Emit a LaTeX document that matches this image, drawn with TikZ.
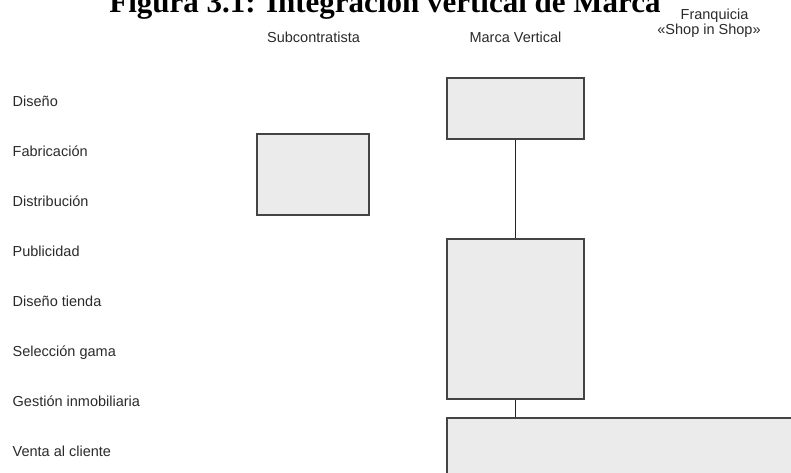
\documentclass[tikz,border=0pt]{standalone}
\usepackage{fontspec}
\setmainfont{Liberation Sans}
\newfontfamily\titlefont{Liberation Serif}
\definecolor{boxfill}{HTML}{EBEBEB}
\definecolor{boxline}{HTML}{444444}
\definecolor{txt}{HTML}{2A2A2A}
\definecolor{connc}{HTML}{222222}
\begin{document}
\begin{tikzpicture}[x=1pt,y=-1pt,
  lbl/.style={anchor=base west, inner sep=0pt, font=\fontsize{14.5}{16}\selectfont, text=txt},
  hdr/.style={anchor=base, inner sep=0pt, font=\fontsize{14.5}{16}\selectfont, text=txt},
  boxnode/.style={draw=boxline, fill=boxfill, line width=1.4pt, inner sep=0pt},
  conn/.style={draw=connc, line width=1.9pt}]
\useasboundingbox (0,0) rectangle (791,472);
\clip (0,0) rectangle (791,472);
% title
\node[anchor=base, inner sep=0pt, font=\titlefont\bfseries\fontsize{31}{36}\selectfont] (title) at (385,12) {Figura 3.1: Integración vertical de Marca};
% headers
\node[hdr] (hsub) at (313.5,42) {Subcontratista};
\node[hdr] (hmv) at (515.5,42) {Marca Vertical};
\node[hdr] (hfr1) at (714.5,19.5) {Franquicia};
\node[hdr] (hfr2) at (709,34.5) {«Shop in Shop»};
% row labels
\node[lbl] (l1) at (12.5,106) {Diseño};
\node[lbl] (l2) at (12.5,156) {Fabricación};
\node[lbl] (l3) at (12.5,206) {Distribución};
\node[lbl] (l4) at (12.5,256) {Publicidad};
\node[lbl] (l5) at (12.5,306) {Diseño tienda};
\node[lbl] (l6) at (12.5,356) {Selección gama};
\node[lbl] (l7) at (12.5,406) {Gestión inmobiliaria};
\node[lbl] (l8) at (12.5,456) {Venta al cliente};
% boxes
\node[boxnode, minimum width=112pt, minimum height=81pt] (sub) at (313,174.5) {};
\node[boxnode, minimum width=137pt, minimum height=61pt] (top) at (515.5,108.5) {};
\node[boxnode, minimum width=137pt, minimum height=160pt] (mid) at (515.5,319) {};
\node[boxnode, minimum width=453pt, minimum height=102pt] (bot) at (673.5,469) {};
% connectors
\draw[conn] (top.south) -- (mid.north);
\draw[conn] (mid.south) -- (mid.south |- bot.north);
\end{tikzpicture}
\end{document}
